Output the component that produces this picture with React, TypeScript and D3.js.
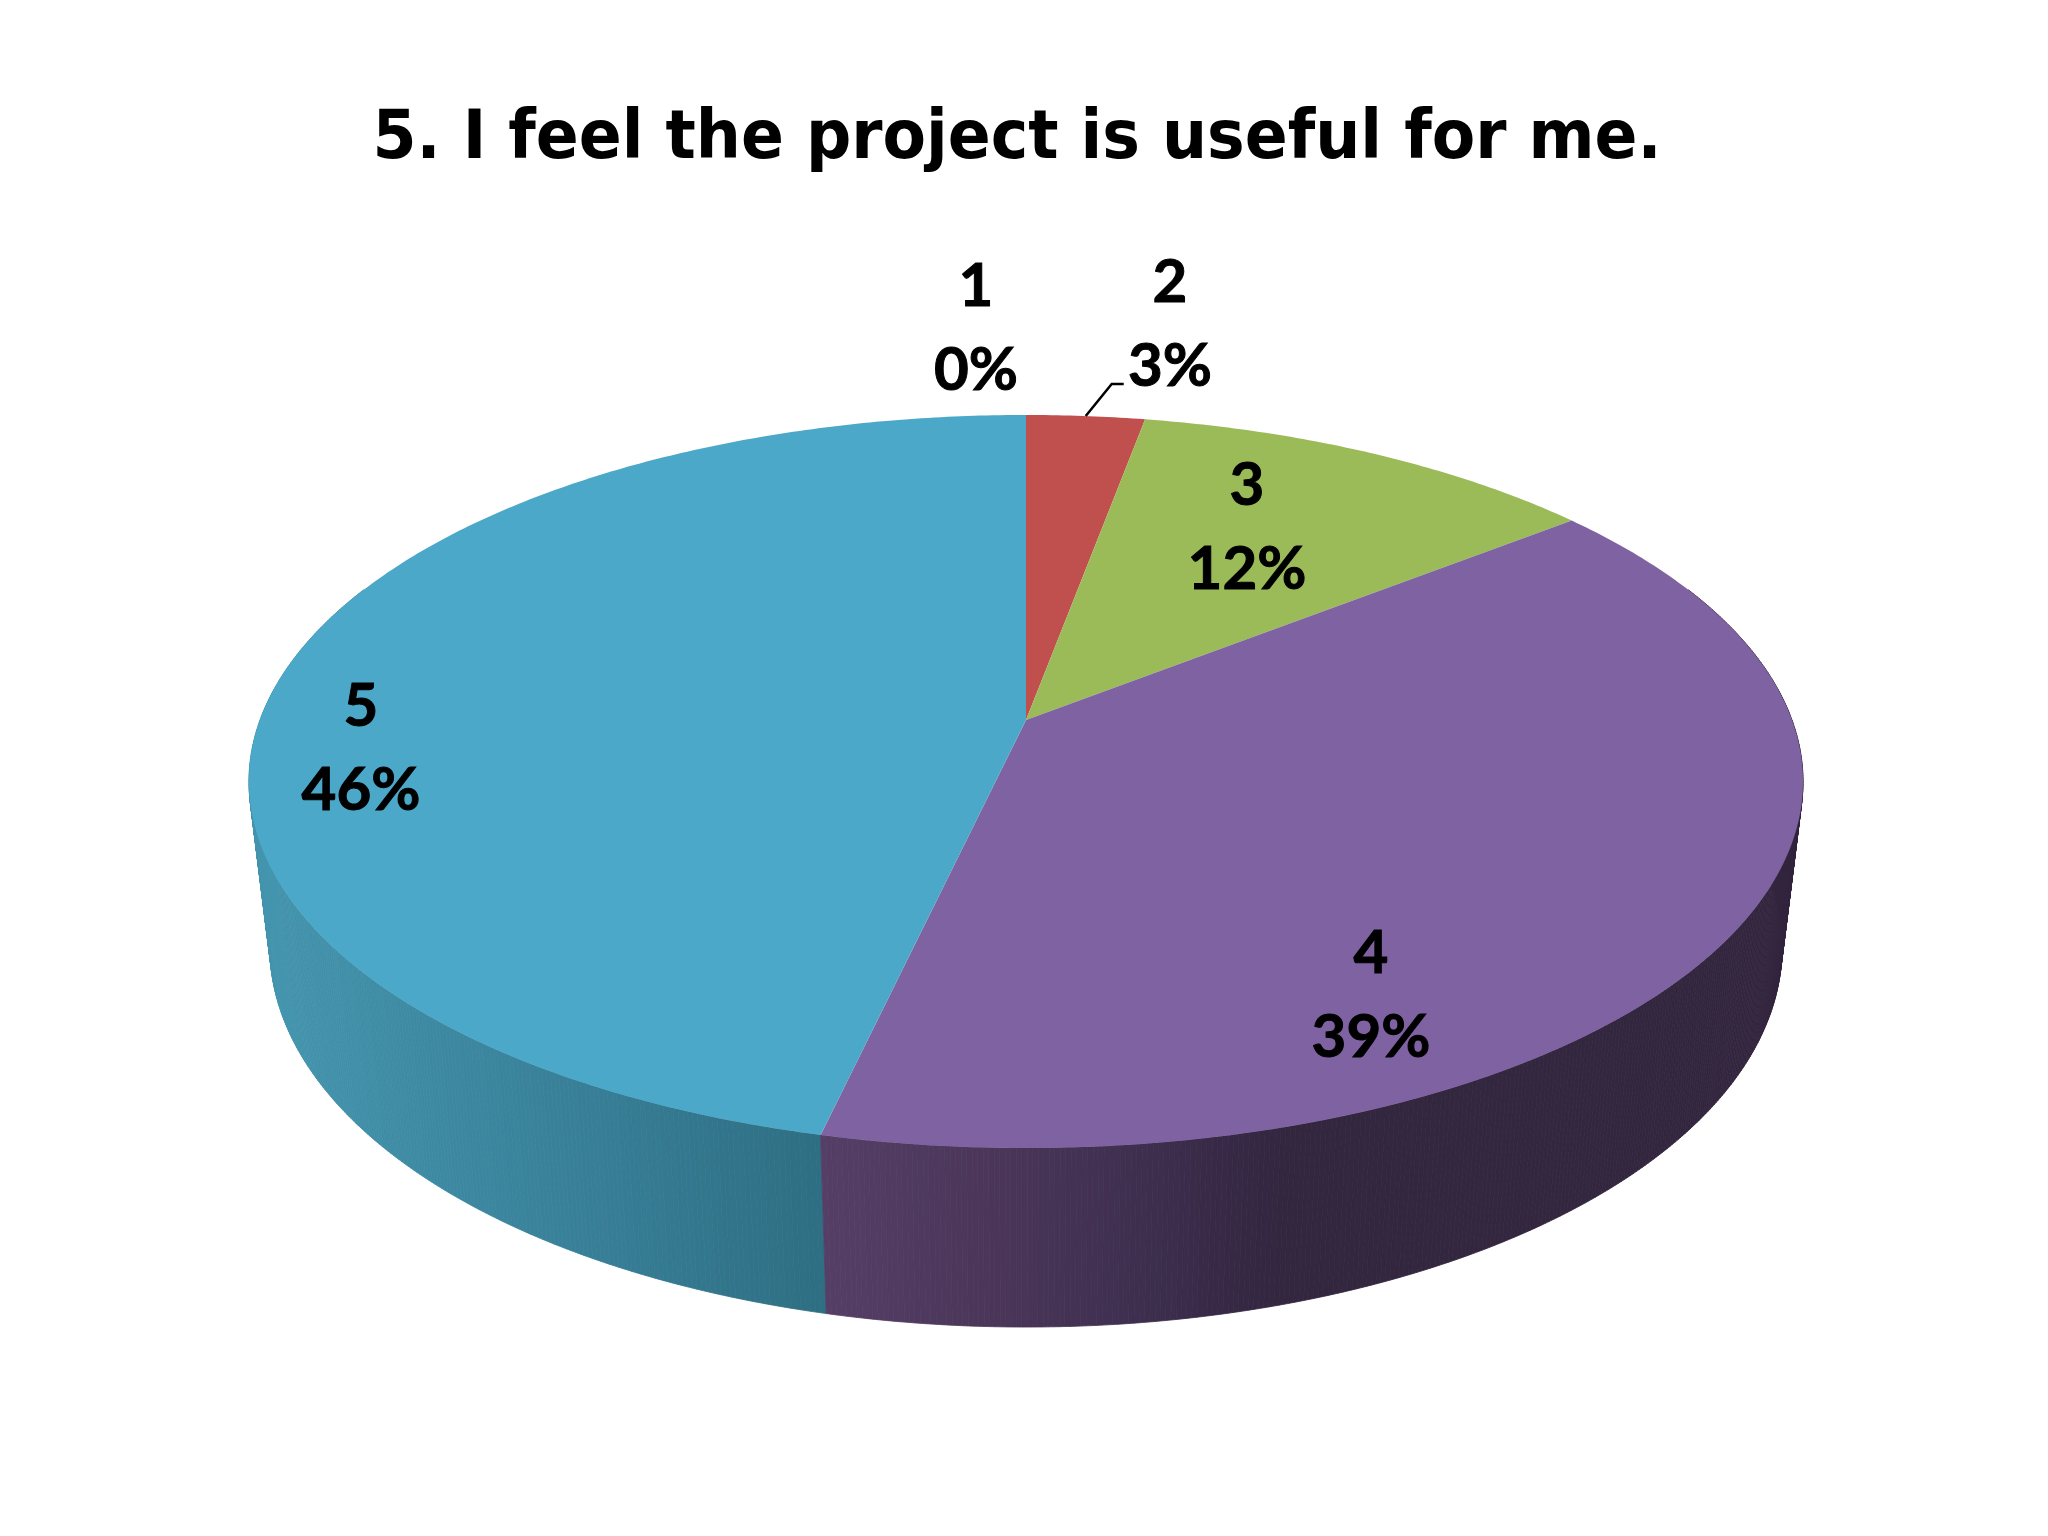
import React from "react";
import * as d3 from "d3";

const titleText = "5. I feel the project is useful for me.";
const categories = ["1", "2", "3", "4", "5"];
const shares = [0, 2.9, 11.5, 39.2, 46.4];
const faceColors = ["#4F81BD", "#C0504D", "#9BBB59", "#7F62A1", "#4BA8C8"];
const wallStops = [
  { x: [248, 420, 620, 819], c: ["#4697b0", "#3f8ba4", "#367d95", "#2f6f83"] },
  { x: [819, 1000, 1150, 1280, 1802], c: ["#563f67", "#4a3659", "#3d2e4e", "#33263f", "#33263f"] },
];
const labelCenters = [
  { x: 976, y: 284 },
  { x: 1170, y: 280 },
  { x: 1247, y: 483 },
  { x: 1371, y: 951 },
  { x: 361, y: 704 },
];

// Perspective set-up of the disc
const W = 2048, H = 1536;
const cx = 1026, apexY = 720, R = 766, persp = -0.1678, yGain = 235.4;
const topCy = 782, topRx = 777, topRy = 366;
const botCx = 1026, botCy = 948, botRx = 756, botRy = 379;
const lineGap = 84;

const projTop = (a: number): [number, number] => {
  const u = Math.sin(a), v = -Math.cos(a);
  const d = persp * v + 1;
  return [cx + (R * u) / d, (yGain * v + apexY) / d];
};
const projBot = (a: number): [number, number] => {
  const [x, y] = projTop(a);
  return [botCx + ((x - cx) * botRx) / topRx, botCy + ((y - topCy) * botRy) / topRy];
};

const arcs = d3.pie<number>().sort(null).startAngle(0).endAngle(2 * Math.PI)(shares);
const line = d3.line();
const samples = (a0: number, a1: number, step: number) => {
  const n = Math.max(1, Math.ceil((a1 - a0) / step));
  return d3.range(n + 1).map((i) => a0 + ((a1 - a0) * i) / n);
};
const pct = d3.format(".0f");

function Wall({ a0, a1, stops }: { a0: number; a1: number; stops: { x: number[]; c: string[] } }) {
  const color = d3.scaleLinear<string>().domain(stops.x).range(stops.c).clamp(true);
  const as = samples(Math.max(a0, Math.PI / 2 - 0.4), Math.min(a1, (3 * Math.PI) / 2 + 0.4), 0.006);
  return (
    <g>
      {as.slice(0, -1).map((a, i) => {
        const b = as[i + 1];
        const col = color(projBot((a + b) / 2)[0]);
        return (
          <path
            key={i}
            d={line([projTop(a), projTop(b), projBot(b), projBot(a)]) + "Z"}
            fill={col}
            stroke={col}
            strokeWidth={0.8}
          />
        );
      })}
    </g>
  );
}

export default function App() {
  const leaderStart = projTop((arcs[1].startAngle + arcs[1].endAngle) / 2);
  const leader = line([
    leaderStart,
    [leaderStart[0] + 26, leaderStart[1] - 32],
    [leaderStart[0] + 38, leaderStart[1] - 32],
  ]) as string;
  return (
    <svg
      width={W}
      height={H}
      viewBox={`0 0 ${W} ${H}`}
      style={{ position: "absolute", left: 0, top: 0, background: "#fff" }}
    >
      <text
        x={1017}
        y={158}
        textAnchor="middle"
        fontFamily="'DejaVu Sans', sans-serif"
        fontWeight={700}
        fontSize={68}
        textLength={1289}
        lengthAdjust="spacingAndGlyphs"
        fill="#000"
      >
        {titleText}
      </text>

      <Wall a0={arcs[4].startAngle} a1={arcs[4].endAngle} stops={wallStops[0]} />
      <Wall a0={arcs[3].startAngle} a1={arcs[3].endAngle} stops={wallStops[1]} />

      {arcs.map((d, i) =>
        d.endAngle > d.startAngle ? (
          <path
            key={i}
            d={
              line([
                [cx, apexY],
                ...samples(d.startAngle, d.endAngle, 0.01).map(projTop),
              ]) + "Z"
            }
            fill={faceColors[i]}
          />
        ) : null
      )}

      <path d={leader} fill="none" stroke="#000" strokeWidth={2.5} />

      {categories.map((c, i) => (
        <g
          key={c}
          textAnchor="middle"
          fontFamily="Lato, sans-serif"
          fontWeight={700}
          fontSize={60}
          fill="#000"
          stroke="#000"
          strokeWidth={1}
        >
          <text x={labelCenters[i].x} y={labelCenters[i].y} dy="0.36em">{c}</text>
          <text x={labelCenters[i].x} y={labelCenters[i].y + lineGap} dy="0.36em">
            {pct(shares[i])}%
          </text>
        </g>
      ))}
    </svg>
  );
}
